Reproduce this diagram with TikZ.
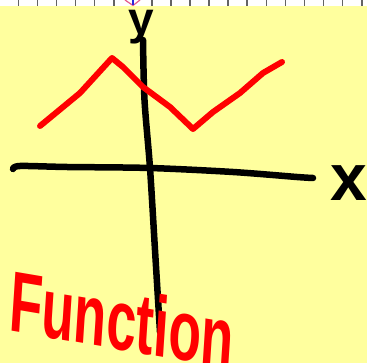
\documentclass[tikz,border=0pt]{standalone}
\usepackage{fontspec}
\setmainfont{Liberation Sans}
\definecolor{paper}{RGB}{255,255,158}
\definecolor{tickgrey}{RGB}{100,100,100}
\definecolor{markpink}{RGB}{230,90,140}
\definecolor{markblue}{RGB}{40,40,220}
\definecolor{pen}{RGB}{255,0,0}
\begin{document}
\begin{tikzpicture}[x=1pt,y=-1pt,
  axisstroke/.style={line width=6.5pt,black,line cap=round,line join=round},
  curvestroke/.style={line width=6pt,pen,line cap=round,line join=round},
  lbl/.style={inner sep=0pt,outer sep=0pt}]
\useasboundingbox (0,0) rectangle (367,363);
% background
\fill[paper] (0,0) rectangle (367,363);
\fill[white] (0,0) rectangle (367,6);
% ruler ticks
\foreach \k in {0,...,18} {
  \draw[tickgrey,line width=1.6pt] ({18.3+19.08*\k},0) -- ({18.3+19.08*\k},6);
}
% marker
\fill[white] (124,0) rectangle (141,6);
\draw[markpink,line width=1.2pt] (125,0) -- (133,5.5) -- (140,0);
\draw[markblue,line width=2pt] (133,0) -- (133,5.5);
% y axis
\draw[axisstroke] plot[smooth] coordinates {(143,40) (144.5,100) (150,168) (155,250) (160,332)};
% x axis
\draw[axisstroke] plot[smooth] coordinates {(13,169) (20,166) (67,167) (150,168) (233,172) (297,177) (313,178)};
% function curve
\draw[curvestroke] (40,126) -- (80,93) -- (112,58) -- (123,67) -- (143,87) -- (170,107) -- (193,129) -- (213,112) -- (240,93) -- (263,73) -- (282,62);
% labels
\node[lbl,anchor=base] (ylab) at (141,35) {\fontsize{46}{46}\selectfont\bfseries y};
\node[lbl,anchor=base] (xlab) at (349,201) {\fontsize{66}{66}\selectfont\bfseries x};
\node[lbl,anchor=base west,text=pen,xscale=0.62,rotate=-6] (title) at (8,331) {\fontsize{86}{86}\selectfont\bfseries Function};
\end{tikzpicture}
\end{document}
